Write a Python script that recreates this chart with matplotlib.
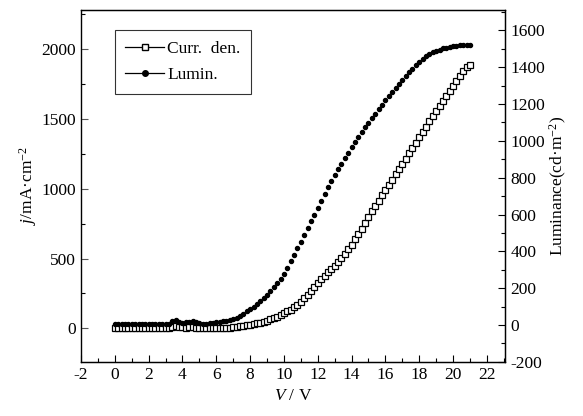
import matplotlib
matplotlib.use("Agg")
import matplotlib.pyplot as plt
from matplotlib.lines import Line2D
from matplotlib.ticker import MultipleLocator

plt.rcParams["font.family"] = ["Liberation Serif", "DejaVu Serif"]
plt.rcParams["mathtext.fontset"] = "custom"
plt.rcParams["mathtext.rm"] = "Liberation Serif"
plt.rcParams["mathtext.it"] = "Liberation Serif:italic"
plt.rcParams["axes.unicode_minus"] = False

# voltage steps of 0.2 V, 0 .. 21 V
voltage = [round(0.2 * i, 1) for i in range(106)]

current_density = [
    0, 0, 0, 0, 0, 0, 0, 0, 0, 0,
    0, 0, 0, 0, 0, 0, 0, 12, 15, 10,
    8, 6, 8, 10, 6, 3, 2, 0, 0, 1,
    1, 2, 3, 4, 6, 8, 11, 14, 17, 22,
    26, 31, 36, 42, 49, 56, 65, 75, 85, 97,
    110, 122, 135, 150, 168, 190, 215, 242, 270, 300,
    328, 352, 378, 402, 426, 450, 476, 505, 535, 566,
    600, 637, 675, 714, 756, 800, 838, 876, 914, 952,
    990, 1028, 1066, 1104, 1140, 1178, 1216, 1254, 1292, 1330,
    1368, 1406, 1444, 1482, 1520, 1556, 1592, 1628, 1664, 1700,
    1736, 1772, 1806, 1840, 1870, 1888,
]

luminance = [
    6, 6, 6, 6, 6, 6, 6, 6, 6, 6,
    6, 6, 6, 6, 6, 6, 7, 20, 25, 18,
    12, 15, 18, 20, 15, 10, 8, 8, 10, 12,
    14, 17, 20, 24, 28, 33, 40, 50, 62, 75,
    88, 100, 113, 128, 145, 163, 183, 205, 228, 252,
    278, 308, 345, 380, 416, 453, 490, 527, 564, 600,
    638, 676, 714, 750, 784, 816, 846, 876, 905, 935,
    964, 992, 1020, 1047, 1073, 1099, 1124, 1148, 1172, 1196,
    1220, 1243, 1266, 1288, 1310, 1331, 1352, 1372, 1391, 1410,
    1428, 1444, 1458, 1470, 1480, 1488, 1495, 1501, 1506, 1510,
    1513, 1516, 1518, 1519, 1520, 1520,
]

fig = plt.figure(figsize=(5.83, 4.16), dpi=100)
ax = fig.add_axes([0.139, 0.13, 0.728, 0.846])
ax2 = ax.twinx()

ax.plot(voltage, current_density, linestyle="none", marker="s", markersize=4.3,
        markerfacecolor="white", markeredgecolor="black", markeredgewidth=0.9)
ax2.plot(voltage, luminance, linestyle="none", marker="o", markersize=2.9,
         color="black")

ax.set_xlim(-2, 23.1)
ax.set_ylim(-240, 2280)
ax2.set_ylim(-200, 1710)

ax.xaxis.set_major_locator(MultipleLocator(2))
ax.xaxis.set_minor_locator(MultipleLocator(1))
ax.yaxis.set_major_locator(MultipleLocator(500))
ax.yaxis.set_minor_locator(MultipleLocator(250))
ax2.yaxis.set_major_locator(MultipleLocator(200))
ax2.yaxis.set_minor_locator(MultipleLocator(100))

for a in (ax, ax2):
    a.tick_params(which="major", direction="in", length=5, width=0.8, labelsize=12.5)
    a.tick_params(which="minor", direction="in", length=3, width=0.8)
    for sp in a.spines.values():
        sp.set_linewidth(0.9)
ax.tick_params(top=False, right=False)
ax.tick_params(axis="y", colors="#555555", labelcolor="black")
ax.spines["left"].set_color("#666666")

ax.set_xlabel("$V$ / V", fontsize=12.5)
ax.set_ylabel("$j$/mA·cm$^{-2}$", fontsize=12.5, labelpad=2)
ax2.set_ylabel("Luminance(cd·m$^{-2}$)", fontsize=12.5, labelpad=2)

handles = [
    Line2D([], [], color="black", lw=0.9, marker="s", markersize=4.5,
           markerfacecolor="white", markeredgecolor="black"),
    Line2D([], [], color="black", lw=0.9, marker="o", markersize=4),
]
leg = ax.legend(handles, ["Curr.  den.", "Lumin."], loc="upper left",
                bbox_to_anchor=(0.08, 0.943), borderaxespad=0, fontsize=12.5,
                frameon=True, fancybox=False, edgecolor="black", handlelength=2.2,
                handletextpad=0.2, borderpad=0.6, labelspacing=0.6)
leg.get_frame().set_linewidth(0.8)

fig.savefig("out.png", dpi=100)
